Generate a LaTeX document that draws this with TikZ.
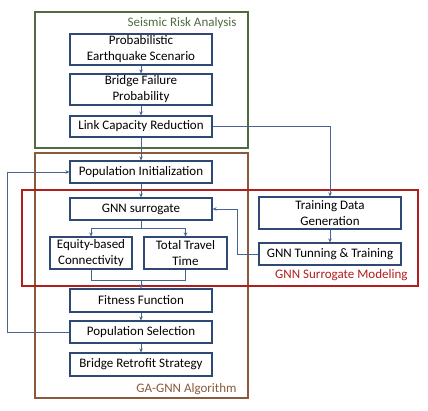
\documentclass[tikz,border=0pt]{standalone}
\usepackage{fontspec}
\setmainfont{Carlito}
\usetikzlibrary{arrows.meta}
\definecolor{boxblue}{HTML}{2E4A74}
\definecolor{linkblue}{HTML}{4A6491}
\definecolor{grp green}{HTML}{4F6B3F}
\definecolor{grpbrown}{HTML}{8A5A3A}
\definecolor{grpred}{HTML}{B01E1E}
\begin{document}
\begin{tikzpicture}[x=1pt,y=-1pt,
  stepbox/.style={draw=boxblue,line width=1.2pt,fill=white,align=center,
    font=\fontsize{13}{16}\selectfont,inner sep=0pt},
  link/.style={draw=linkblue,line width=0.8pt},
  arr/.style={link,-{Stealth[length=4pt,width=3.6pt]}},
  grouplabel/.style={font=\fontsize{13}{15}\selectfont,anchor=east}]
\useasboundingbox (0,0) rectangle (428,410);
% group frames
\draw[grp green,line width=1.2pt] (35,12) rectangle (248,148);
\draw[grpbrown,line width=1.2pt] (35,153) rectangle (248,398);
\draw[grpred,line width=1.2pt] (22,190) rectangle (418,286);
\node[grouplabel,text=grp green] (lsra) at (240,23) {Seismic Risk Analysis};
\node[grouplabel,text=grpred] (lgsm) at (411,275) {GNN Surrogate Modeling};
\node[grouplabel,text=grpbrown] (lga) at (240,389) {GA-GNN Algorithm};
% boxes
\node[stepbox,minimum width=142pt,minimum height=31pt] (pes) at (141,49.5) {Probabilistic\\Earthquake Scenario};
\node[stepbox,minimum width=142pt,minimum height=31pt] (bfp) at (141,89.5) {Bridge Failure\\Probability};
\node[stepbox,minimum width=142pt,minimum height=21pt] (lcr) at (141,126.5) {Link Capacity Reduction};
\node[stepbox,minimum width=142pt,minimum height=22pt] (pi) at (141,172) {Population Initialization};
\node[stepbox,minimum width=142pt,minimum height=22pt] (gnn) at (141,209) {GNN surrogate};
\node[stepbox,minimum width=82pt,minimum height=32pt] (eq) at (91,253) {Equity-based\\Connectivity};
\node[stepbox,minimum width=83pt,minimum height=32pt] (ttt) at (185.5,253) {Total Travel\\Time};
\node[stepbox,minimum width=142pt,minimum height=23pt] (ff) at (141,300.5) {Fitness Function};
\node[stepbox,minimum width=142pt,minimum height=22pt] (ps) at (141,332) {Population Selection};
\node[stepbox,minimum width=142pt,minimum height=23pt] (brs) at (141,364.5) {Bridge Retrofit Strategy};
\node[stepbox,minimum width=142pt,minimum height=32pt] (tdg) at (330,213) {Training Data\\Generation};
\node[stepbox,minimum width=142pt,minimum height=22pt] (gtt) at (330,254) {GNN Tunning \& Training};
% helper coordinates
\coordinate (split) at (141,228);
\coordinate (splitl) at (91,228);
\coordinate (splitr) at (185.5,228);
\coordinate (join) at (141,280);
\coordinate (joinl) at (91,280);
\coordinate (joinr) at (185.5,280);
\coordinate (fb) at (237,254);
\coordinate (loop) at (7,332);
% connectors
\draw[arr] (pes) -- (bfp);
\draw[arr] (bfp) -- (lcr);
\draw[arr] (lcr) -- (pi);
\draw[arr] (lcr.east) -| (tdg.north);
\draw[arr] (pi) -- (gnn);
\draw[link] (gnn.south) -- (split);
\draw[link] (splitl) -- (splitr);
\draw[arr] (splitl) -- (eq.north);
\draw[arr] (splitr) -- (ttt.north);
\draw[link] (eq.south) -- (joinl) -- (joinr) -- (ttt.south);
\draw[arr] (join) -- (ff.north);
\draw[arr] (tdg) -- (gtt);
\draw[arr] (gtt.west) -- (fb) |- (gnn.east);
\draw[arr] (ff) -- (ps);
\draw[arr] (ps) -- (brs);
\draw[arr] (ps.west) -- (loop) |- (pi.west);
\end{tikzpicture}
\end{document}
